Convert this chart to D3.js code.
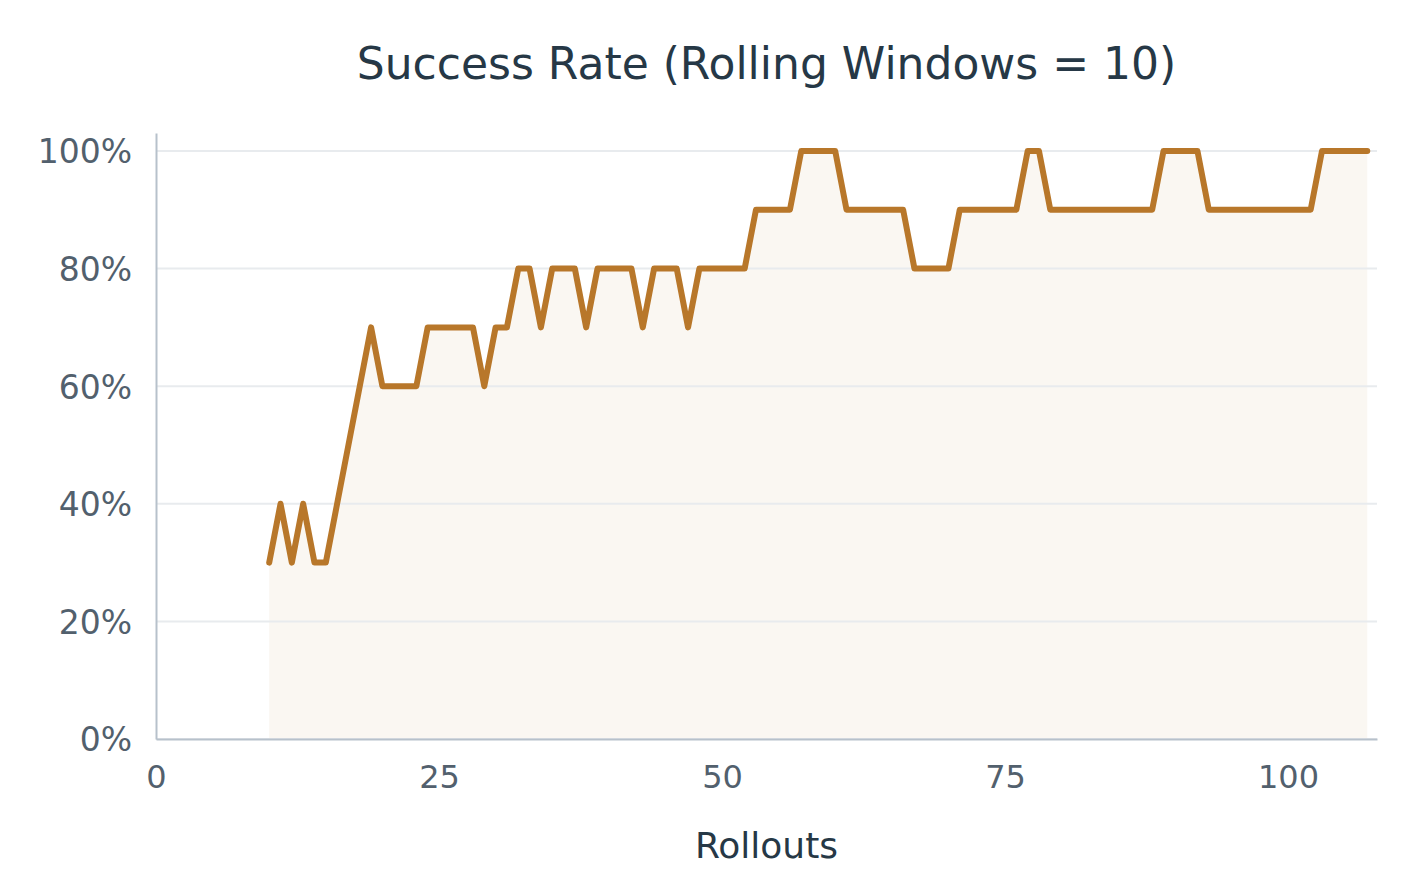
<!DOCTYPE html>
<html lang="en">
<head>
    <meta charset="UTF-8">
    <title>Success Rate</title>
    <script src="https://d3js.org/d3.v7.min.js"></script>
    <style>
        body{
            margin: 0;
            background-color: white;
        }
        svg text{
            font-family: "DejaVu Sans", sans-serif;
        }
        .grid line{
            stroke: #e8ebee;
            stroke-width: 2px;
        }
        .tick text{
            fill: #52606d;
        }
    </style>
</head>
<body>
<svg id="canvas" width="1420" height="890"></svg>
<script>
    // rollout index (x) and rolling success rate (y)
    let rollouts = d3.range(10, 108);
    let successRate = [
        0.3, 0.4, 0.3, 0.4, 0.3, 0.3, 0.4, 0.5, 0.6, 0.7,          // 10-19
        0.6, 0.6, 0.6, 0.6, 0.7, 0.7, 0.7, 0.7, 0.7, 0.6,          // 20-29
        0.7, 0.7, 0.8, 0.8, 0.7, 0.8, 0.8, 0.8, 0.7, 0.8,          // 30-39
        0.8, 0.8, 0.8, 0.7, 0.8, 0.8, 0.8, 0.7, 0.8, 0.8,          // 40-49
        0.8, 0.8, 0.8, 0.9, 0.9, 0.9, 0.9, 1.0, 1.0, 1.0,          // 50-59
        1.0, 0.9, 0.9, 0.9, 0.9, 0.9, 0.9, 0.8, 0.8, 0.8,          // 60-69
        0.8, 0.9, 0.9, 0.9, 0.9, 0.9, 0.9, 1.0, 1.0, 0.9,          // 70-79
        0.9, 0.9, 0.9, 0.9, 0.9, 0.9, 0.9, 0.9, 0.9, 1.0,          // 80-89
        1.0, 1.0, 1.0, 0.9, 0.9, 0.9, 0.9, 0.9, 0.9, 0.9,          // 90-99
        0.9, 0.9, 0.9, 1.0, 1.0, 1.0, 1.0, 1.0                     // 100-107
    ];
    let xTicks = [0, 25, 50, 75, 100];
    let yTicks = [0, 0.2, 0.4, 0.6, 0.8, 1.0];

    let data = rollouts.map((r, i) => ({x: r, y: successRate[i]}));

    let svg = d3.select('svg');
    let margin = {left: 156, right: 1377, top: 133, bottom: 739};

    let x = d3.scaleLinear().domain([0, 107.86]).range([margin.left, margin.right]);
    let y = d3.scaleLinear().domain([0, 1.0306]).range([margin.bottom, margin.top]);

    // area under the line
    let area = d3.area()
        .x(d => x(d.x))
        .y0(y(0))
        .y1(d => y(d.y));
    svg.append('path')
        .datum(data)
        .attr('d', area)
        .attr('fill', '#faf7f2');

    // gridlines, drawn over the light fill
    svg.append('g')
        .attr('class', 'grid')
        .selectAll('line')
        .data(yTicks)
        .enter()
        .append('line')
        .attr('x1', margin.left)
        .attr('x2', margin.right)
        .attr('y1', d => y(d))
        .attr('y2', d => y(d));

    // axes
    let xAxis = svg.append('g')
        .attr('transform', `translate(0,${margin.bottom})`)
        .call(d3.axisBottom(x).tickValues(xTicks).tickSize(0).tickPadding(26));
    let yAxis = svg.append('g')
        .attr('transform', `translate(${margin.left},0)`)
        .call(d3.axisLeft(y).tickValues(yTicks).tickSize(0).tickPadding(24).tickFormat(d3.format('.0%')));

    [xAxis, yAxis].forEach(a => {
        a.select('.domain').attr('stroke', '#b7c1cb').attr('stroke-width', 2);
        a.selectAll('.tick text').style('font-size', '32px');
    });
    yAxis.selectAll('.tick text').attr('dy', '0.36em').style('font-size', '33px');

    // the line
    let line = d3.line()
        .x(d => x(d.x))
        .y(d => y(d.y));
    svg.append('path')
        .datum(data)
        .attr('d', line)
        .attr('fill', 'none')
        .attr('stroke', '#b8772a')
        .attr('stroke-width', 6)
        .attr('stroke-linejoin', 'round')
        .attr('stroke-linecap', 'round');

    // title and axis label
    svg.append('text')
        .attr('x', (margin.left + margin.right) / 2)
        .attr('y', 79)
        .attr('text-anchor', 'middle')
        .style('font-size', '44px')
        .style('fill', '#263846')
        .text('Success Rate (Rolling Windows = 10)');

    svg.append('text')
        .attr('x', (margin.left + margin.right) / 2)
        .attr('y', 858)
        .attr('text-anchor', 'middle')
        .style('font-size', '36px')
        .style('fill', '#263846')
        .text('Rollouts');
</script>
</body>
</html>
